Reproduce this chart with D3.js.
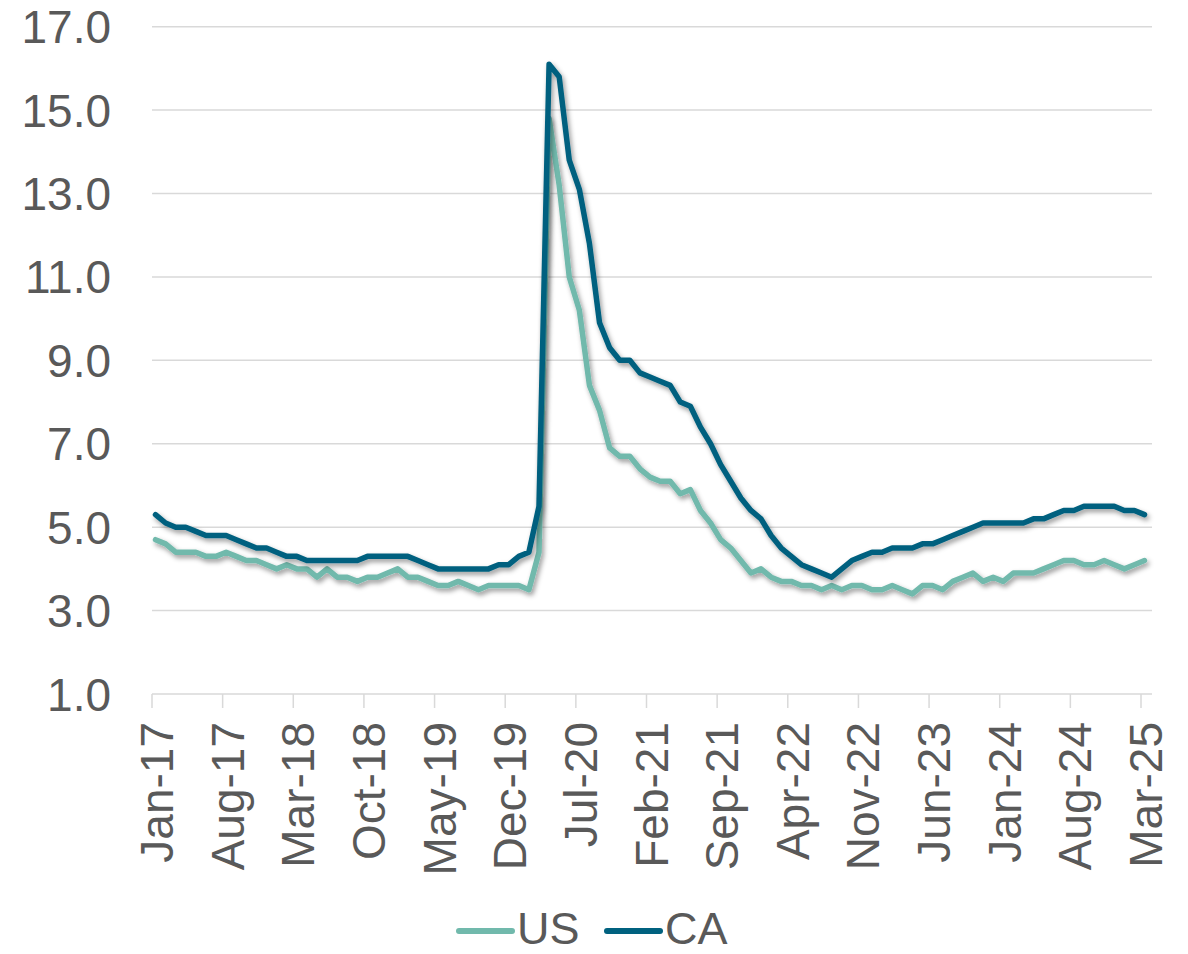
<!DOCTYPE html>
<html>
<head>
<meta charset="utf-8">
<script src="https://cdn.jsdelivr.net/npm/d3@7"></script>
<style>
    body { margin: 0; background: #fff; }
    svg text { font-family: "Liberation Sans", Arial, sans-serif; fill: #595959; }
</style>
</head>
<body>
<div id="chart"></div>
<script>
// Monthly categories, Jan-17 .. Mar-25
const months = d3.timeMonth.range(new Date(2017, 0, 1), new Date(2025, 3, 1));
const tickLabels = ["Jan-17", "Aug-17", "Mar-18", "Oct-18", "May-19", "Dec-19", "Jul-20", "Feb-21",
    "Sep-21", "Apr-22", "Nov-22", "Jun-23", "Jan-24", "Aug-24", "Mar-25"];
const yTicks = [1, 3, 5, 7, 9, 11, 13, 15, 17];

const usValues = [
    4.7, 4.6, 4.4, 4.4, 4.4, 4.3, 4.3, 4.4, 4.3, 4.2, 4.2, 4.1,
    4.0, 4.1, 4.0, 4.0, 3.8, 4.0, 3.8, 3.8, 3.7, 3.8, 3.8, 3.9,
    4.0, 3.8, 3.8, 3.7, 3.6, 3.6, 3.7, 3.6, 3.5, 3.6, 3.6, 3.6,
    3.6, 3.5, 4.4, 14.8, 13.2, 11.0, 10.2, 8.4, 7.8, 6.9, 6.7, 6.7,
    6.4, 6.2, 6.1, 6.1, 5.8, 5.9, 5.4, 5.1, 4.7, 4.5, 4.2, 3.9,
    4.0, 3.8, 3.7, 3.7, 3.6, 3.6, 3.5, 3.6, 3.5, 3.6, 3.6, 3.5,
    3.5, 3.6, 3.5, 3.4, 3.6, 3.6, 3.5, 3.7, 3.8, 3.9, 3.7, 3.8,
    3.7, 3.9, 3.9, 3.9, 4.0, 4.1, 4.2, 4.2, 4.1, 4.1, 4.2, 4.1,
    4.0, 4.1, 4.2
];
const caValues = [
    5.3, 5.1, 5.0, 5.0, 4.9, 4.8, 4.8, 4.8, 4.7, 4.6, 4.5, 4.5,
    4.4, 4.3, 4.3, 4.2, 4.2, 4.2, 4.2, 4.2, 4.2, 4.3, 4.3, 4.3,
    4.3, 4.3, 4.2, 4.1, 4.0, 4.0, 4.0, 4.0, 4.0, 4.0, 4.1, 4.1,
    4.3, 4.4, 5.5, 16.1, 15.8, 13.8, 13.1, 11.8, 9.9, 9.3, 9.0, 9.0,
    8.7, 8.6, 8.5, 8.4, 8.0, 7.9, 7.4, 7.0, 6.5, 6.1, 5.7, 5.4,
    5.2, 4.8, 4.5, 4.3, 4.1, 4.0, 3.9, 3.8, 4.0, 4.2, 4.3, 4.4,
    4.4, 4.5, 4.5, 4.5, 4.6, 4.6, 4.7, 4.8, 4.9, 5.0, 5.1, 5.1,
    5.1, 5.1, 5.1, 5.2, 5.2, 5.3, 5.4, 5.4, 5.5, 5.5, 5.5, 5.5,
    5.4, 5.4, 5.3
];

const series = [
    { name: "US", values: usValues, color: "#71b9ac" },
    { name: "CA", values: caValues, color: "#00617f" },
];

const width = 1188, height = 954;
const svg = d3.select("#chart").append("svg")
    .attr("width", width)
    .attr("height", height);

// soft shadow under the lines
const shadow = svg.append("defs").append("filter")
    .attr("id", "shadow")
    .attr("x", "-5%").attr("y", "-5%")
    .attr("width", "110%").attr("height", "110%");
shadow.append("feDropShadow")
    .attr("dx", 2).attr("dy", 3)
    .attr("stdDeviation", 2.5)
    .attr("flood-color", "#000")
    .attr("flood-opacity", 0.4);

const x = d3.scaleLinear().domain([0, months.length - 1]).range([152, 1141]);
const y = d3.scaleLinear().domain([1, 17]).range([694, 26.7]);
const lineOffset = 3.5;

// gridlines
svg.append("g").selectAll("line")
    .data(yTicks.slice(1))
    .join("line")
    .attr("x1", 152).attr("x2", 1152)
    .attr("y1", (d) => y(d)).attr("y2", (d) => y(d))
    .attr("stroke", "#d9d9d9")
    .attr("stroke-width", 1.5);

// y labels
svg.append("g").selectAll("text")
    .data(yTicks)
    .join("text")
    .attr("x", 111)
    .attr("y", (d) => y(d) + 16.5)
    .attr("text-anchor", "end")
    .attr("font-size", 46)
    .text((d) => d.toFixed(1));

// x axis line + ticks
const xAxis = svg.append("g");
xAxis.append("line")
    .attr("x1", 152).attr("x2", 1152)
    .attr("y1", y(1)).attr("y2", y(1))
    .attr("stroke", "#d9d9d9")
    .attr("stroke-width", 1.5);

const tickIdx = tickLabels.map((_, i) => i * 7);
xAxis.selectAll(".tick")
    .data(tickIdx)
    .join("line")
    .attr("class", "tick")
    .attr("x1", (d) => x(d)).attr("x2", (d) => x(d))
    .attr("y1", y(1)).attr("y2", y(1) + 14)
    .attr("stroke", "#d9d9d9")
    .attr("stroke-width", 1.5);

xAxis.selectAll("text")
    .data(tickIdx)
    .join("text")
    .attr("transform", (d) => `translate(${x(d) + 21},722) rotate(-90)`)
    .attr("text-anchor", "end")
    .attr("font-size", 46)
    .text((d, i) => tickLabels[i]);

// lines
const line = d3.line()
    .x((d, i) => x(i) + lineOffset)
    .y((d) => y(d));

svg.append("g").selectAll("path")
    .data(series)
    .join("path")
    .attr("d", (s) => line(s.values))
    .attr("fill", "none")
    .attr("stroke", (s) => s.color)
    .attr("stroke-width", 5.5)
    .attr("stroke-linejoin", "round")
    .attr("stroke-linecap", "round")
    .attr("filter", "url(#shadow)");

// legend (kept just inside the bottom edge)
const legendX = [459, 607];
const legend = svg.append("g").selectAll("g")
    .data(series)
    .join("g")
    .attr("transform", (s, i) => `translate(${legendX[i]},931)`);
legend.append("line")
    .attr("x1", 0).attr("x2", 53)
    .attr("stroke", (s) => s.color)
    .attr("stroke-width", 6)
    .attr("stroke-linecap", "round");
legend.append("text")
    .attr("x", 58)
    .attr("y", 13)
    .attr("font-size", 45)
    .text((s) => s.name);
</script>
</body>
</html>
